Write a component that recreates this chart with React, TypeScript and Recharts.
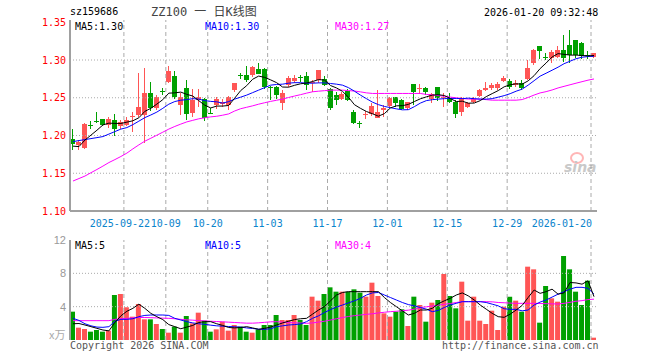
import React from "react";
import { ComposedChart, Bar, Line, XAxis, YAxis, ReferenceLine, Cell } from "recharts";

const MONO = "'DejaVu Sans Mono', monospace";
const RED = "#ff5555";
const GREEN = "#00a000";
const LABEL_BLUE = "#0a84cc";

const dates = [
  "2025-09-09", "2025-09-10", "2025-09-11", "2025-09-12", "2025-09-15", "2025-09-16", "2025-09-17", "2025-09-18", "2025-09-19", "2025-09-22",
  "2025-09-23", "2025-09-24", "2025-09-25", "2025-09-26", "2025-09-29", "2025-09-30", "2025-10-09", "2025-10-10", "2025-10-13", "2025-10-14",
  "2025-10-15", "2025-10-16", "2025-10-17", "2025-10-20", "2025-10-21", "2025-10-22", "2025-10-23", "2025-10-24", "2025-10-27", "2025-10-28",
  "2025-10-29", "2025-10-30", "2025-10-31", "2025-11-03", "2025-11-04", "2025-11-05", "2025-11-06", "2025-11-07", "2025-11-10", "2025-11-11",
  "2025-11-12", "2025-11-13", "2025-11-14", "2025-11-17", "2025-11-18", "2025-11-19", "2025-11-20", "2025-11-21", "2025-11-24", "2025-11-25",
  "2025-11-26", "2025-11-27", "2025-11-28", "2025-12-01", "2025-12-02", "2025-12-03", "2025-12-04", "2025-12-05", "2025-12-08", "2025-12-09",
  "2025-12-10", "2025-12-11", "2025-12-12", "2025-12-15", "2025-12-16", "2025-12-17", "2025-12-18", "2025-12-19", "2025-12-22", "2025-12-23",
  "2025-12-24", "2025-12-25", "2025-12-26", "2025-12-29", "2025-12-30", "2025-12-31", "2026-01-05", "2026-01-06", "2026-01-07", "2026-01-08",
  "2026-01-09", "2026-01-12", "2026-01-13", "2026-01-14", "2026-01-15", "2026-01-16", "2026-01-19", "2026-01-20",
];

const open = [
  1.195, 1.188, 1.183, 1.2142, 1.2192, 1.2213, 1.214, 1.22, 1.212, 1.214,
  1.2245, 1.227, 1.227, 1.2557, 1.2365, 1.2585, 1.2706, 1.2786, 1.24, 1.2623,
  1.2293, 1.2468, 1.2478, 1.2303, 1.24, 1.2412, 1.2403, 1.26, 1.2796, 1.2796,
  1.2799, 1.2882, 1.2875, 1.2646, 1.2636, 1.2424, 1.267, 1.2723, 1.278, 1.2786,
  1.2689, 1.2733, 1.2742, 1.262, 1.2535, 1.248, 1.2587, 1.2306, 1.217, 1.2275,
  1.2279, 1.2234, 1.2336, 1.2393, 1.2513, 1.2468, 1.2367, 1.2676, 1.262, 1.2623,
  1.2482, 1.2645, 1.2491, 1.2491, 1.2446, 1.2314, 1.238, 1.2438, 1.2526, 1.2601,
  1.2631, 1.2631, 1.272, 1.272, 1.2667, 1.2702, 1.2746, 1.2954, 1.3187, 1.3043,
  1.3024, 1.3041, 1.313, 1.3196, 1.3262, 1.3227, 1.307, 1.3041,
];
const close = [
  1.189, 1.191, 1.215, 1.2138, 1.219, 1.2142, 1.222, 1.209, 1.218, 1.221,
  1.2265, 1.2376, 1.2557, 1.2363, 1.2504, 1.258, 1.2856, 1.2512, 1.2513, 1.228,
  1.2468, 1.2513, 1.2226, 1.23, 1.249, 1.2447, 1.251, 1.2689, 1.2792, 1.2733,
  1.2908, 1.2821, 1.2636, 1.2643, 1.2535, 1.2565, 1.276, 1.2756, 1.2776, 1.2667,
  1.2711, 1.2874, 1.2667, 1.2363, 1.2468, 1.2544, 1.2468, 1.216, 1.2168, 1.2281,
  1.2393, 1.2306, 1.2358, 1.2499, 1.2424, 1.2349, 1.2438, 1.257, 1.2625, 1.2579,
  1.2544, 1.2491, 1.2513, 1.2446, 1.2279, 1.2491, 1.2424, 1.2482, 1.26, 1.2631,
  1.2667, 1.2684, 1.2764, 1.2645, 1.2702, 1.2631, 1.2896, 1.313, 1.3117, 1.3041,
  1.31, 1.313, 1.3024, 1.3064, 1.3064, 1.305, 1.306, 1.3094,
];
const high = [
  1.208, 1.194, 1.217, 1.219, 1.231, 1.222, 1.224, 1.229, 1.221, 1.225,
  1.2315, 1.283, 1.29, 1.271, 1.253, 1.263, 1.2922, 1.286, 1.2557, 1.2733,
  1.261, 1.261, 1.25, 1.236, 1.251, 1.248, 1.252, 1.27, 1.283, 1.292,
  1.2922, 1.296, 1.289, 1.266, 1.265, 1.26, 1.279, 1.28, 1.2795, 1.2843,
  1.2733, 1.2874, 1.2786, 1.263, 1.258, 1.258, 1.262, 1.2336, 1.219, 1.232,
  1.243, 1.26, 1.241, 1.2513, 1.2515, 1.248, 1.245, 1.268, 1.268, 1.264,
  1.256, 1.2645, 1.2557, 1.2557, 1.2468, 1.2513, 1.244, 1.2513, 1.261, 1.271,
  1.27, 1.2715, 1.2786, 1.2755, 1.2733, 1.2733, 1.2997, 1.3143, 1.3187, 1.309,
  1.313, 1.319, 1.3328, 1.3394, 1.3262, 1.3243, 1.3117, 1.3094,
];
const low = [
  1.181, 1.181, 1.182, 1.209, 1.216, 1.213, 1.21, 1.199, 1.208, 1.212,
  1.205, 1.225, 1.1896, 1.232, 1.234, 1.253, 1.269, 1.249, 1.227, 1.2204,
  1.225, 1.238, 1.2195, 1.228, 1.235, 1.238, 1.234, 1.258, 1.275, 1.271,
  1.277, 1.281, 1.262, 1.2468, 1.248, 1.2336, 1.264, 1.27, 1.2715, 1.26,
  1.258, 1.27, 1.265, 1.234, 1.24, 1.247, 1.2455, 1.2147, 1.21, 1.222,
  1.226, 1.2226, 1.225, 1.238, 1.238, 1.234, 1.234, 1.24, 1.2547, 1.254,
  1.2425, 1.2455, 1.238, 1.243, 1.2226, 1.226, 1.236, 1.2424, 1.2513, 1.2588,
  1.26, 1.2605, 1.2705, 1.2614, 1.264, 1.2605, 1.2733, 1.294, 1.302, 1.2997,
  1.2955, 1.3025, 1.2975, 1.2955, 1.3024, 1.301, 1.301, 1.3024,
];

const ma5 = [
  1.1859, 1.1853, 1.194, 1.2005, 1.207, 1.214, 1.2164, 1.216, 1.216, 1.2177,
  1.2195, 1.2235, 1.232, 1.236, 1.2416, 1.2475, 1.2561, 1.2565, 1.2575, 1.2545,
  1.2523, 1.2462, 1.2402, 1.2365, 1.239, 1.239, 1.2398, 1.2495, 1.2595, 1.266,
  1.2745, 1.2787, 1.277, 1.2737, 1.27, 1.2642, 1.264, 1.2665, 1.2685, 1.2695,
  1.2715, 1.274, 1.2735, 1.2662, 1.263, 1.2585, 1.2507, 1.2408, 1.236, 1.2318,
  1.2288, 1.2256, 1.229, 1.2365, 1.2393, 1.2395, 1.2412, 1.245, 1.2486, 1.2512,
  1.2535, 1.254, 1.253, 1.249, 1.245, 1.2455, 1.2428, 1.243, 1.2462, 1.2515,
  1.2555, 1.2595, 1.2645, 1.2672, 1.2685, 1.268, 1.2724, 1.2793, 1.2886, 1.296,
  1.304, 1.3085, 1.3075, 1.3065, 1.3065, 1.306, 1.3055, 1.306,
];
const ma10 = [
  1.1919, 1.1933, 1.1946, 1.1959, 1.1972, 1.1986, 1.2019, 1.2052, 1.2085, 1.2105,
  1.2144, 1.219, 1.2237, 1.2272, 1.231, 1.236, 1.2415, 1.245, 1.2468, 1.2475,
  1.2488, 1.2482, 1.2462, 1.2452, 1.2446, 1.2429, 1.2449, 1.2482, 1.2508, 1.2535,
  1.2568, 1.2601, 1.2634, 1.2667, 1.2676, 1.268, 1.2693, 1.27, 1.27, 1.2693,
  1.2693, 1.2697, 1.2697, 1.2689, 1.268, 1.2667, 1.2634, 1.2587, 1.2535, 1.2488,
  1.2442, 1.2409, 1.2385, 1.2369, 1.2353, 1.234, 1.2342, 1.2382, 1.2429, 1.2462,
  1.2475, 1.2482, 1.2488, 1.2491, 1.2491, 1.2488, 1.2495, 1.2488, 1.2482, 1.2482,
  1.2488, 1.2508, 1.2528, 1.2554, 1.2587, 1.2614, 1.2667, 1.2726, 1.2786, 1.2825,
  1.2865, 1.2905, 1.2951, 1.2984, 1.3017, 1.3037, 1.3046, 1.305,
];
const ma30 = [
  1.1397, 1.143, 1.1463, 1.1507, 1.155, 1.1595, 1.1642, 1.1681, 1.1722, 1.1767,
  1.1823, 1.1876, 1.1925, 1.1964, 1.2004, 1.2044, 1.2085, 1.212, 1.2151, 1.218,
  1.2201, 1.2221, 1.2235, 1.2247, 1.2255, 1.2269, 1.2286, 1.2325, 1.2355, 1.2374,
  1.2393, 1.2415, 1.2434, 1.2452, 1.2467, 1.2482, 1.2504, 1.2523, 1.2541, 1.2561,
  1.2579, 1.2587, 1.2594, 1.2601, 1.2601, 1.2601, 1.2595, 1.2589, 1.2578, 1.2565,
  1.2557, 1.2557, 1.2557, 1.2557, 1.2557, 1.2557, 1.2557, 1.2557, 1.2557, 1.2544,
  1.2537, 1.2529, 1.252, 1.2509, 1.2499, 1.2491, 1.2483, 1.2482, 1.2482, 1.2475,
  1.2468, 1.2468, 1.2468, 1.2468, 1.2468, 1.2476, 1.2504, 1.2536, 1.2564, 1.2581,
  1.2603, 1.263, 1.2651, 1.2672, 1.2693, 1.2713, 1.2733, 1.2749,
];

// 成交量（万手）
const volume = [
  3.4, 1.48, 1.32, 1.0, 1.2, 1.0, 1.12, 5.4, 5.52, 3.92,
  2.8, 4.32, 2.48, 2.48, 1.92, 1.32, 0.88, 1.6, 0.88, 2.88,
  2.0, 3.28, 2.32, 1.0, 1.28, 2.2, 1.12, 1.8, 1.6, 1.0,
  0.88, 1.28, 1.8, 1.8, 3.0, 2.4, 2.4, 3.0, 2.4, 1.8,
  5.2, 4.72, 5.52, 6.32, 5.8, 5.8, 5.8, 6.08, 5.68, 5.2,
  6.88, 5.28, 3.2, 2.8, 3.4, 3.68, 1.68, 5.2, 4.2, 2.2,
  4.48, 4.8, 7.92, 5.28, 3.8, 7.0, 2.32, 5.2, 2.32, 1.92,
  3.52, 1.2, 4.0, 5.2, 4.72, 3.4, 8.8, 8.48, 2.08, 6.48,
  5.0, 4.6, 10.08, 8.48, 5.8, 4.2, 7.12, 0.28,
];
const volMa5 = [
  1.95, 1.98, 1.8, 1.6, 1.4, 1.2, 1.1, 2.1, 2.9, 3.45,
  3.8, 4.3, 3.8, 3.2, 2.8, 2.45, 1.85, 1.6, 1.35, 1.55,
  1.75, 2.1, 2.2, 2.2, 1.95, 1.75, 1.5, 1.45, 1.5, 1.6,
  1.45, 1.28, 1.4, 1.55, 1.8, 2.05, 2.25, 2.45, 2.55, 2.6,
  3.1, 3.6, 4.0, 4.7, 5.4, 5.7, 5.8, 5.8, 5.8, 5.8,
  5.8, 5.8, 5.1, 4.5, 4.0, 3.5, 3.0, 3.2, 3.6, 3.6,
  3.8, 4.35, 4.7, 5.0, 5.4, 5.65, 5.3, 4.8, 4.2, 3.7,
  3.2, 2.8, 2.72, 3.1, 3.6, 4.15, 5.1, 6.0, 5.6, 5.8,
  6.1, 5.5, 5.65, 6.9, 6.85, 6.7, 7.1, 5.2,
];
const volMa10 = [
  2.6, 2.35, 1.95, 1.7, 1.55, 1.52, 1.6, 2.25, 2.48, 2.48,
  2.55, 2.8, 2.95, 3.0, 3.0, 3.0, 2.95, 2.6, 2.4, 2.2,
  2.05, 1.95, 1.88, 1.78, 1.7, 1.66, 1.62, 1.58, 1.55, 1.45,
  1.38, 1.3, 1.28, 1.35, 1.6, 1.7, 1.8, 1.85, 1.92, 2.2,
  2.6, 2.9, 3.3, 3.65, 3.95, 4.2, 4.45, 4.7, 5.0, 5.4,
  5.65, 5.7, 5.4, 5.1, 4.8, 4.5, 4.25, 4.1, 3.9, 3.7,
  3.4, 3.55, 3.9, 4.2, 4.4, 4.6, 4.6, 4.6, 4.6, 4.5,
  4.3, 4.1, 3.75, 3.68, 3.68, 3.5, 3.6, 4.2, 4.55, 4.8,
  5.15, 5.5, 5.8, 6.1, 6.32, 6.32, 6.2, 5.5,
];
const volMa30 = [
  2.32, 2.32, 2.32, 2.32, 2.32, 2.32, 2.32, 2.48, 2.55, 2.6,
  2.65, 2.7, 2.7, 2.68, 2.65, 2.62, 2.6, 2.55, 2.48, 2.42,
  2.38, 2.33, 2.3, 2.25, 2.22, 2.18, 2.14, 2.1, 2.06, 2.02,
  2.02, 2.06, 2.12, 2.18, 2.2, 2.14, 2.08, 2.06, 2.04, 2.0,
  2.05, 2.15, 2.25, 2.4, 2.55, 2.7, 2.82, 2.92, 3.0, 3.08,
  3.15, 3.25, 3.33, 3.4, 3.45, 3.52, 3.58, 3.7, 3.9, 3.98,
  4.08, 4.18, 4.28, 4.38, 4.5, 4.6, 4.6, 4.6, 4.6, 4.6,
  4.58, 4.5, 4.47, 4.43, 4.4, 4.4, 4.4, 4.4, 4.38, 4.36,
  4.34, 4.32, 4.4, 4.52, 4.65, 4.72, 4.85, 4.9,
];

const priceTicks = [1.1, 1.15, 1.2, 1.25, 1.3, 1.35];
const priceGrid = [1.15, 1.2, 1.25, 1.3];
const volTicks = [0, 4, 8, 12];
const volGrid = [4, 8];
const dateTicks = ["2025-09-22", "2025-10-09", "2025-10-20", "2025-11-03", "2025-11-17", "2025-12-01", "2025-12-15", "2025-12-29", "2026-01-20"];
const dateLabels = ["2025-09-22", "10-09", "10-20", "11-03", "11-17", "12-01", "12-15", "12-29", "2026-01-20"];

const rows = dates.map((date, i) => ({
  date,
  open: open[i],
  close: close[i],
  high: high[i],
  low: low[i],
  range: [low[i], high[i]],
  ma5: ma5[i],
  ma10: ma10[i],
  ma30: ma30[i],
  vol: volume[i],
  vma5: volMa5[i],
  vma10: volMa10[i],
  vma30: volMa30[i],
}));

function Candle(props: any) {
  const { x, y, width, height, payload } = props;
  if (x == null || y == null) return null;
  const up = payload.close >= payload.open;
  const color = up ? RED : GREEN;
  const top = Math.min(y, y + height);
  const h = Math.abs(height);
  const span = payload.high - payload.low;
  const k = span > 0 ? h / span : 0;
  const bodyTop = top + (payload.high - Math.max(payload.open, payload.close)) * k;
  const bodyH = Math.max(1, Math.abs(payload.close - payload.open) * k);
  const bx = Math.round(x);
  const w = Math.round(width);
  const cx = bx + Math.floor(w / 2);
  return (
    <g shapeRendering="crispEdges">
      <rect x={cx} y={top} width={1} height={Math.max(1, h)} fill={color} />
      <rect x={bx} y={bodyTop} width={w} height={bodyH} fill={color} />
    </g>
  );
}

// date labels sit on the dashed lines (band start); the last one is right-aligned
function DateTick(props: any) {
  const { x, y, payload } = props;
  const idx = dateTicks.indexOf(payload.value);
  if (idx < 0) return null;
  const last = idx === dateTicks.length - 1;
  const first = idx === 0;
  return (
    <text
      x={last ? x - 2 : first ? x - 7 : x - 3}
      y={y}
      dy={14}
      textAnchor={last ? "end" : "middle"}
      fill={LABEL_BLUE}
      fontSize={10}
      fontFamily={MONO}
    >
      {dateLabels[idx]}
    </text>
  );
}

const border = { stroke: "#a0a0a0", strokeWidth: 1 };
const borderThick = { stroke: "#a0a0a0", strokeWidth: 2 };

function txt(left: number, top: number, color: string, s: string, extra: any = {}) {
  return (
    <div
      style={{
        position: "absolute",
        left,
        top,
        color,
        fontFamily: MONO,
        fontSize: 10,
        lineHeight: "12px",
        whiteSpace: "pre",
        ...extra,
      }}
    >
      {s}
    </div>
  );
}

export default function App() {
  return (
    <div style={{ position: "absolute", left: 0, top: 0, width: 660, height: 360, background: "#fff", overflow: "hidden" }}>
      <div style={{ position: "absolute", left: 0, top: 0 }}>
        <ComposedChart width={660} height={240} data={rows} margin={{ top: 20, right: 63, bottom: 0, left: 0 }}>
          <XAxis
            dataKey="date"
            ticks={dateTicks}
            interval={0}
            height={29}
            tickLine={false}
            tickSize={0}
            axisLine={borderThick}
            tick={<DateTick />}
          />
          <XAxis xAxisId="top" dataKey="date" orientation="top" height={0} tick={false} tickLine={false} axisLine={border} />
          <YAxis
            domain={[1.1, 1.353]}
            ticks={priceTicks}
            allowDataOverflow
            width={70}
            tickLine={false}
            tickSize={0}
            tickMargin={4}
            axisLine={borderThick}
            tick={{ fill: "#ff0000", fontSize: 10, fontFamily: MONO }}
            tickFormatter={(v: number) => v.toFixed(2)}
          />
          <YAxis yAxisId="right" orientation="right" width={0} tick={false} tickLine={false} axisLine={border} />
          {priceGrid.map((v) => (
            <ReferenceLine key={v} y={v} stroke="#aaa" strokeDasharray="1 2" />
          ))}
          {dateTicks.map((d) => (
            <ReferenceLine key={d} x={d} position="start" stroke="#aaa" strokeDasharray="4 3" />
          ))}
          <Bar dataKey="range" barSize={5} shape={<Candle />} isAnimationActive={false} />
          <Line dataKey="ma30" stroke="#ff00ff" strokeWidth={1} dot={false} isAnimationActive={false} />
          <Line dataKey="ma10" stroke="#0000ff" strokeWidth={1} dot={false} isAnimationActive={false} />
          <Line dataKey="ma5" stroke="#000000" strokeWidth={1} dot={false} isAnimationActive={false} />
        </ComposedChart>
      </div>

      <div style={{ position: "absolute", left: 0, top: 230 }}>
        <ComposedChart width={660} height={130} data={rows} margin={{ top: 10, right: 63, bottom: 20, left: 0 }}>
          <XAxis dataKey="date" height={0} tick={false} tickLine={false} axisLine={borderThick} />
          <XAxis xAxisId="top" dataKey="date" orientation="top" height={0} tick={false} tickLine={false} axisLine={border} />
          <YAxis
            domain={[0, 12]}
            ticks={volTicks}
            width={70}
            tickLine={false}
            tickSize={0}
            tickMargin={4}
            axisLine={borderThick}
            tick={{ fill: "#999", fontSize: 11, fontFamily: "'Liberation Sans', sans-serif" }}
            tickFormatter={(v: number) => (v === 0 ? "" : String(v))}
          />
          <YAxis yAxisId="right" orientation="right" width={0} tick={false} tickLine={false} axisLine={border} />
          {volGrid.map((v) => (
            <ReferenceLine key={v} y={v} stroke="#aaa" strokeDasharray="1 2" />
          ))}
          {dateTicks.map((d) => (
            <ReferenceLine key={d} x={d} position="start" stroke="#aaa" strokeDasharray="4 3" />
          ))}
          <Bar dataKey="vol" barSize={5} isAnimationActive={false}>
            {rows.map((r) => (
              <Cell key={r.date} fill={r.close >= r.open ? RED : GREEN} />
            ))}
          </Bar>
          <Line dataKey="vma30" stroke="#ff00ff" strokeWidth={1} dot={false} isAnimationActive={false} />
          <Line dataKey="vma10" stroke="#0000ff" strokeWidth={1} dot={false} isAnimationActive={false} />
          <Line dataKey="vma5" stroke="#000000" strokeWidth={1} dot={false} isAnimationActive={false} />
        </ComposedChart>
      </div>

      {txt(70, 6, "#000", "sz159686")}
      <div
        style={{
          position: "absolute",
          left: 151,
          top: 4,
          color: "#444",
          fontFamily: "'DejaVu Sans Mono', 'Noto Sans CJK SC', monospace",
          fontSize: 12,
          lineHeight: "16px",
          whiteSpace: "pre",
        }}
      >
        ZZ100 一 日K线图
      </div>
      {txt(484, 7, "#000", "2026-01-20 09:32:48")}

      {txt(75, 21, "#000", "MA5:1.30")}
      {txt(205, 21, "#0000ff", "MA10:1.30")}
      {txt(335, 21, "#ff00ff", "MA30:1.27")}

      {txt(75, 240, "#000", "MA5:5")}
      {txt(205, 240, "#0000ff", "MA10:5")}
      {txt(335, 240, "#ff00ff", "MA30:4")}

      <div
        style={{
          position: "absolute",
          left: 49,
          top: 328,
          color: "#aaa",
          fontFamily: "'Noto Sans CJK SC', serif",
          fontSize: 11,
          lineHeight: "12px",
        }}
      >
        x万
      </div>

      {txt(70, 340, "#555", "Copyright 2026 SINA.COM")}
      {txt(442, 340, "#555", "http://finance.sina.com.cn")}

      <div style={{ position: "absolute", left: 562, top: 150, opacity: 0.45 }}>
        <div
          style={{
            position: "absolute",
            left: 8,
            top: 2,
            width: 10,
            height: 8,
            borderRadius: "50%",
            border: "2px solid #ff6060",
          }}
        />
        <div
          style={{
            position: "absolute",
            left: 2,
            top: 9,
            color: "#888",
            fontFamily: "'DejaVu Sans', sans-serif",
            fontStyle: "italic",
            fontWeight: "bold",
            fontSize: 14,
            lineHeight: "16px",
          }}
        >
          sina
        </div>
      </div>
    </div>
  );
}
